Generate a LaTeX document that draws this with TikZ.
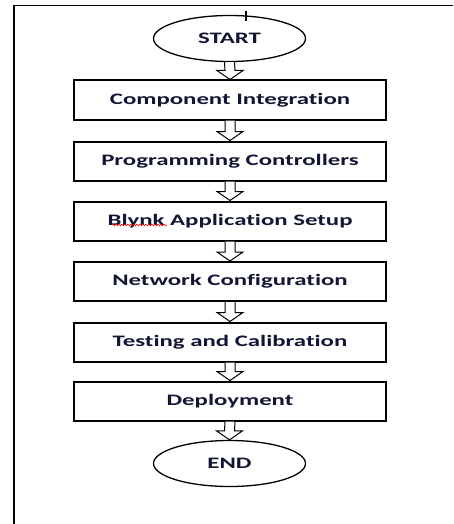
\documentclass[tikz,border=0pt]{standalone}
\usepackage{fontspec}
\usepackage{tikz}
\usetikzlibrary{arrows,shapes,calc,decorations.pathmorphing}
\newfontfamily\flowfont{Carlito}[FakeStretch=1.55, Ligatures=NoCommon]
\definecolor{textnavy}{RGB}{18,22,52}
% hollow block arrow between two nodes
\newcommand{\hollowarrow}[2]{%
  \draw [black, line width=1pt, fill=white, line join=miter]
    ($(#1.south)+(-5,0)$) -- ($(#2.north)+(-5,9)$) -- ($(#2.north)+(-13,9)$) -- (#2.north)
    -- ($(#2.north)+(13,9)$) -- ($(#2.north)+(5,9)$) -- ($(#1.south)+(5,0)$);}

\begin{document}
\begin{tikzpicture}[x=1pt,y=1pt]
                \tikzstyle{every node}+=[inner sep=0pt, text=textnavy, font=\flowfont\bfseries\fontsize{16}{18}\selectfont]
                \tikzstyle{stepbox}=[draw=black, line width=2pt, minimum width=312pt, minimum height=39pt]
                \tikzstyle{terminal}=[draw=black, ellipse, line width=1.3pt, minimum width=152pt, minimum height=46pt]
                \useasboundingbox (0,0) rectangle (453,-524);
                \draw [black, line width=1.4pt] (14,-524) -- (14,-5.5) -- (453,-5.5);
                \node [terminal] (start) at (229.5,-38.5) {START};
                \draw [black, line width=1.6pt] (245.7,-11) -- (245.7,-21.5);
                \node [stepbox] (integration) at (230,-100) {Component Integration};
                \node [stepbox] (programming) at (230,-161) {Programming Controllers};
                \node [stepbox] (setup) at (230,-221) {Blynk Application Setup};
                \node [stepbox] (network) at (230,-281.5) {Network Configuration};
                \node [stepbox] (testing) at (230,-342) {Testing and Calibration};
                \node [stepbox] (deployment) at (230,-401) {Deployment};
                \node [terminal] (end) at (229.5,-463.5) {END};
                \draw [red, line width=0.6pt, decorate, decoration={snake, amplitude=0.8pt, segment length=3pt}]
                    ($(setup.center)+(-118,-4)$) -- ($(setup.center)+(-63,-4)$);
                \hollowarrow{start}{integration}
                \hollowarrow{integration}{programming}
                \hollowarrow{programming}{setup}
                \hollowarrow{setup}{network}
                \hollowarrow{network}{testing}
                \hollowarrow{testing}{deployment}
                \hollowarrow{deployment}{end}
\end{tikzpicture}
\end{document}
